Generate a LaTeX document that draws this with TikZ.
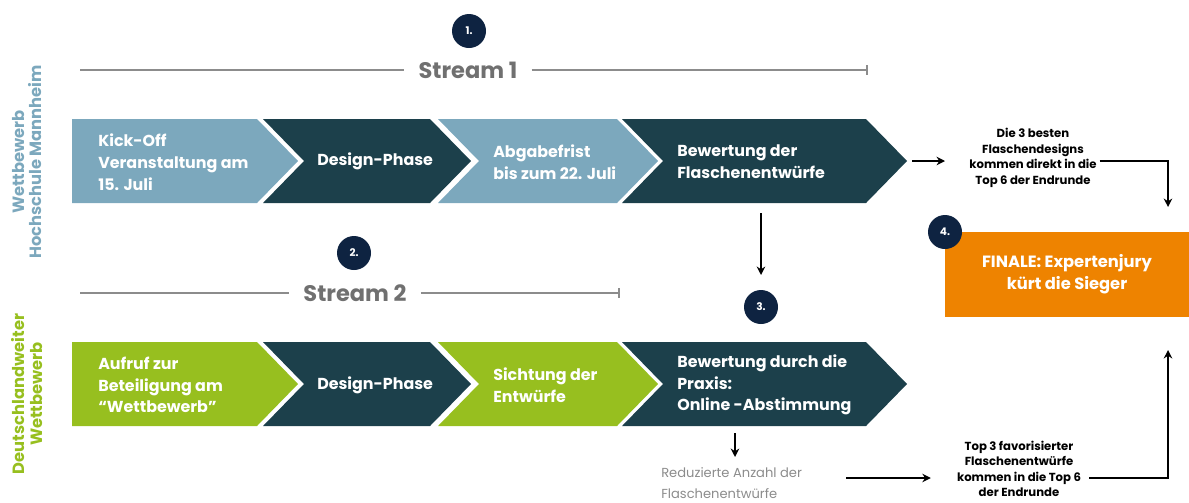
\documentclass[tikz,border=0pt]{standalone}
\usepackage{fontspec}
\setmainfont{Poppins}
\usetikzlibrary{arrows.meta}

\definecolor{hsblue}{HTML}{7CA8BD}
\definecolor{darkteal}{HTML}{1C404B}
\definecolor{limegreen}{HTML}{97BF1F}
\definecolor{finorange}{HTML}{EE8300}
\definecolor{navy}{HTML}{0E2341}
\definecolor{streamgrey}{HTML}{707070}
\definecolor{linegrey}{HTML}{8C8C8C}

\begin{document}
\begin{tikzpicture}[x=0.025cm, y=-0.025cm,
  steptext/.style={text=white, font=\bfseries\fontsize{11.3}{15.5}\selectfont, align=left, anchor=west, inner sep=0pt},
  streamlabel/.style={text=streamgrey, font=\bfseries\fontsize{16}{18}\selectfont, inner xsep=0.35cm},
  streamline/.style={draw=linegrey, line width=1.3pt},
  stepnum/.style={circle, fill=navy, text=white, minimum size=0.85cm, inner sep=0pt, font=\bfseries\fontsize{7.5}{8}\selectfont},
  sidelabel/.style={rotate=90, align=center, font=\bfseries\fontsize{11.6}{12.2}\selectfont},
  note/.style={align=center, font=\bfseries\fontsize{8.3}{11}\selectfont, inner sep=0pt},
  flow/.style={draw=black, line width=1.1pt, -{Stealth[length=6pt,width=6pt]}}]
\useasboundingbox (0,0) rectangle (1189,502);

% chevrons, both rows
\foreach \yy/\lc in {0/hsblue, 223/limegreen}{
  \foreach \l/\r/\k [count=\i] in {72/257/1, 263/430/0, 438/617/1, 622/866/0}{
    \ifnum\k=1 \def\cc{\lc}\else\def\cc{darkteal}\fi
    \ifnum\i=1 \def\nx{0}\else\def\nx{41}\fi
    \fill[\cc] (\l,119+\yy) -- (\r,119+\yy) -- (\r+41,161+\yy) -- (\r,203+\yy)
      -- (\l,203+\yy) -- (\l+\nx,161+\yy) -- cycle;
  }
}

% side labels
\node[sidelabel, text=hsblue] (hsm) at (27,162) {Wettbewerb\\Hochschule Mannheim};
\node[sidelabel, text=limegreen] (dtw) at (27,394) {Deutschlandweiter\\Wettbewerb};

% stream 1
\node[streamlabel] (s1) at (468,70) {Stream 1};
\draw[streamline] (80,70) -- (s1.west);
\draw[streamline, -{Bar[width=7pt]}] (s1.east) -- (868,70);
\node[stepnum] (n1) at (469,31) {1.};

\node[steptext] (k1) at (98,162) {Kick-Off\\Veranstaltung am\\15. Juli};
\node[steptext] (d1) at (317,161) {Design-Phase};
\node[steptext] (a1) at (493,162) {Abgabefrist\\bis zum 22. Juli};
\node[steptext] (b1) at (677,162) {Bewertung der\\Flaschenentwürfe};

% stream 2
\node[streamlabel] (s2) at (355,293) {Stream 2};
\draw[streamline] (80,293) -- (s2.west);
\draw[streamline, -{Bar[width=7pt]}] (s2.east) -- (620,293);
\node[stepnum] (n2) at (354,253) {2.};

\node[steptext] (k2) at (98,385) {Aufruf zur\\Beteiligung am\\“Wettbewerb”};
\node[steptext] (d2) at (317,385) {Design-Phase};
\node[steptext] (a2) at (493,385) {Sichtung der\\Entwürfe};
\node[steptext] (b2) at (677,385) {Bewertung durch die\\Praxis:\\Online -Abstimmung};

\node[stepnum] (n3) at (761,307) {3.};

% finale
\node[fill=finorange, text=white, minimum width=6.1cm, minimum height=2.125cm,
  align=center, font=\bfseries\fontsize{11.6}{15.5}\selectfont] (fin) at (1067,274.5)
  {FINALE: Expertenjury\\kürt die Sieger};
\node[stepnum] (n4) at (945,232) {4.};

% notes
\node[note] (t1) at (1033,158) {Die 3 besten\\Flaschendesigns\\kommen direkt in die\\Top 6 der Endrunde};
\node[note] (t2) at (1019,469) {Top 3 favorisierter\\Flaschenentwürfe\\kommen in die Top 6\\der Endrunde};
\node[align=left, anchor=west, inner sep=0pt, text=linegrey, font=\fontsize{9.3}{15}\selectfont] (r1)
  at (661,483) {Reduzierte Anzahl der\\Flaschenentwürfe};

% connectors
\coordinate (b1tip) at (912,161);
\coordinate (t1in) at (945,161);
\coordinate (finin) at (1168,207);
\coordinate (b1out) at (761,213);
\coordinate (n3in) at (761,275);
\coordinate (b2out) at (735,433);
\coordinate (r1in) at (735,457);
\coordinate (finin2) at (1168,350);

\draw[flow] (b1tip) -- (t1in);
\draw[flow] ([xshift=2pt]t1.east |- b1tip) -| (finin);
\draw[flow] (b1out) -- (n3in);
\draw[flow] (b2out) -- (r1in);
\draw[flow] ([xshift=1.1cm]r1.east |- 0,478) -- ([xshift=-0.65cm]t2.west |- 0,478);
\draw[flow] ([xshift=0.2cm]t2.east |- 0,478) -| (finin2);
\end{tikzpicture}
\end{document}
